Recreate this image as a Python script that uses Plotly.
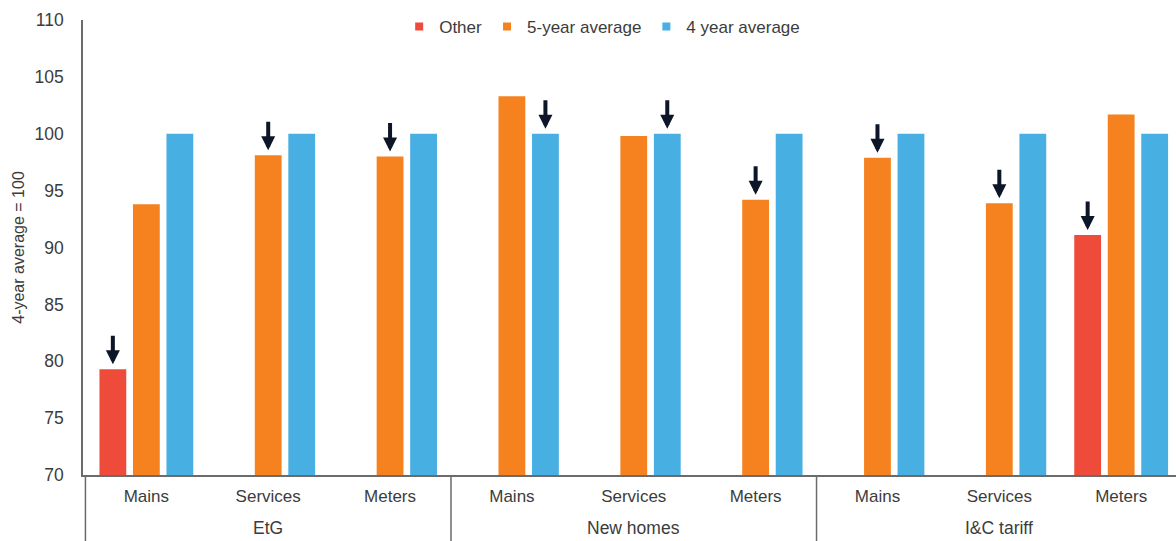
import plotly.graph_objects as go

# ---- data -------------------------------------------------------------
groups = ["EtG", "New homes", "I&C tariff"]
subcats = ["Mains", "Services", "Meters"]
x_labels = subcats * 3

other = [79.3, None, None, None, None, None, None, None, 91.1]
five_year = [93.8, 98.1, 98.0, 103.3, 99.8, 94.2, 97.9, 93.9, 101.7]
four_year = [100, 100, 100, 100, 100, 100, 100, 100, 100]

# which series gets a down-arrow in each category
arrow_series = ["Other", "5-year average", "5-year average",
                "4 year average", "4 year average", "5-year average",
                "5-year average", "5-year average", "Other"]

series = [
    ("Other", other, "#EE4B3B"),
    ("5-year average", five_year, "#F5821F"),
    ("4 year average", four_year, "#48AFE3"),
]

# ---- layout constants ---------------------------------------------------
FONT = "Liberation Sans, Arial, sans-serif"
TXT = "#3c3c3c"
AXIS = "#6b6b6b"
BARGAP = 0.175
BARGROUPGAP = 0.2
W, H = 1176, 541
M_L, M_R, M_T, M_B = 83, 0, 20, 66

x_pos = list(range(len(x_labels)))

fig = go.Figure()
for name, vals, color in series:
    fig.add_trace(go.Bar(
        x=x_pos, y=vals, name=name,
        marker=dict(color=color, line=dict(width=0)),
        showlegend=False,
    ))
    # small square legend markers
    fig.add_trace(go.Scatter(
        x=[None], y=[None], mode="markers", name=name,
        marker=dict(symbol="square", size=8, color=color),
    ))

# arrows pointing down at the highlighted bars
slot = (1 - BARGAP) / len(series)
names = [s[0] for s in series]
values = {s[0]: s[1] for s in series}
for i, sname in enumerate(arrow_series):
    k = names.index(sname)
    xc = i + (k - (len(series) - 1) / 2) * slot
    fig.add_annotation(
        x=xc, y=values[sname][i], xref="x", yref="y",
        showarrow=True, ax=0, ay=-35, axref="pixel", ayref="pixel",
        standoff=5, arrowhead=2, arrowsize=0.7, arrowwidth=4,
        arrowcolor="#0c1628", text="",
    )

# group labels below the sub-category labels
for g, name in enumerate(groups):
    fig.add_annotation(
        x=g * 3 + 1, y=-53 / (H - M_T - M_B), xref="x", yref="paper",
        text=name, showarrow=False, yanchor="middle",
        font=dict(family=FONT, size=17.5, color=TXT),
    )

# vertical separators between groups, running below the axis
for b in [-0.5, 2.5, 5.5, 8.5]:
    fig.add_shape(
        type="line", xref="x", yref="paper",
        x0=b, x1=b, y0=0, y1=-(M_B + 2) / (H - M_T - M_B),
        line=dict(color=AXIS, width=1.5),
    )

fig.update_layout(
    width=W, height=H,
    margin=dict(l=M_L, r=M_R, t=M_T, b=M_B),
    paper_bgcolor="white", plot_bgcolor="white",
    barmode="group", bargap=BARGAP, bargroupgap=BARGROUPGAP,
    font=dict(family=FONT, size=17, color=TXT),
    legend=dict(
        orientation="h", x=0.475, xanchor="center", y=0.985, yanchor="middle",
        font=dict(family=FONT, size=17, color=TXT),
        itemwidth=30, bgcolor="rgba(0,0,0,0)",
    ),
    xaxis=dict(
        range=[-0.52, 8.45],
        tickmode="array", tickvals=x_pos, ticktext=x_labels,
        showgrid=False, zeroline=False,
        showline=True, linecolor=AXIS, linewidth=1.5,
        ticks="", ticklabelstandoff=5,
        tickfont=dict(family=FONT, size=17, color=TXT),
    ),
    yaxis=dict(
        range=[70, 110], dtick=5,
        showgrid=False, zeroline=False,
        showline=True, linecolor=AXIS, linewidth=1.5,
        ticks="", ticklabelstandoff=14,
        tickfont=dict(family=FONT, size=17.5, color=TXT),
        title=dict(text="4-year average = 100",
                   font=dict(family=FONT, size=16, color=TXT), standoff=6),
    ),
)

fig.write_html("out.html")
